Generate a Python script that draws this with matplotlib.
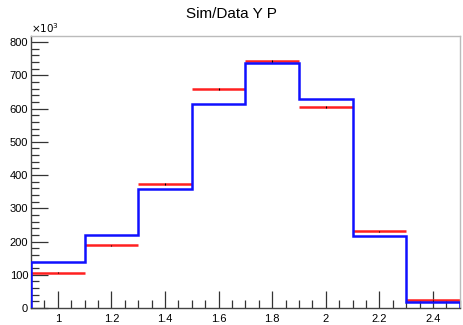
import matplotlib
matplotlib.use("Agg")
import matplotlib.pyplot as plt
import numpy as np
from matplotlib.ticker import MultipleLocator, FuncFormatter

plt.rcParams['font.family'] = ['Liberation Sans', 'DejaVu Sans']

# bin edges and contents (in units of 10^3)
bin_edges = [0.9, 1.1, 1.3, 1.5, 1.7, 1.9, 2.1, 2.3, 2.5]
sim_counts = [139, 220, 359, 613, 738, 628, 217, 17]
data_counts = [106, 189, 374, 658, 743, 605, 231, 23]
data_errors = [1.5, 2, 2.5, 3, 3, 3, 2, 1]

fig = plt.figure(figsize=(4.63, 3.25), dpi=100)
ax = fig.add_axes([0.067, 0.052, 0.926, 0.837])

edges = np.asarray(bin_edges)
centers = 0.5 * (edges[:-1] + edges[1:])
half = 0.5 * np.diff(edges)

# simulation as a step histogram
ax.stairs(sim_counts, edges, color='#1010ff', linewidth=1.8, zorder=3)

# data as horizontal bars with small vertical error bars
ax.errorbar(centers, data_counts, xerr=half, fmt='none', ecolor='#ff2020',
            elinewidth=1.8, capsize=0, zorder=2)
ax.errorbar(centers, data_counts, yerr=data_errors, fmt='none', ecolor='black',
            elinewidth=0.8, capsize=0, zorder=4)

ax.set_xlim(0.9, 2.5)
ax.set_ylim(0, 818)

ax.xaxis.set_major_locator(MultipleLocator(0.2))
ax.xaxis.set_minor_locator(MultipleLocator(0.05))
ax.yaxis.set_major_locator(MultipleLocator(100))
ax.yaxis.set_minor_locator(MultipleLocator(20))
ax.xaxis.set_major_formatter(FuncFormatter(lambda v, p: f"{v:g}"))

ax.tick_params(which='both', direction='in', top=False, right=False,
               colors='#333333', labelsize=8, labelcolor='black')
ax.tick_params(which='major', length=12, width=0.9)
ax.tick_params(which='minor', length=6, width=0.9)
ax.tick_params(axis='x', pad=4)
ax.tick_params(axis='y', pad=2)

for side in ['left', 'bottom']:
    ax.spines[side].set_color('#444444')
    ax.spines[side].set_linewidth(1.0)
for side in ['top', 'right']:
    ax.spines[side].set_color('#bbbbbb')
    ax.spines[side].set_linewidth(1.0)

ax.text(0.0, 1.003, r'$\times10^{3}$', transform=ax.transAxes, fontsize=7.5,
        ha='left', va='bottom')

fig.text(0.5, 0.958, 'Sim/Data Y P', ha='center', va='center', fontsize=11)

fig.savefig('out.png', dpi=100)
